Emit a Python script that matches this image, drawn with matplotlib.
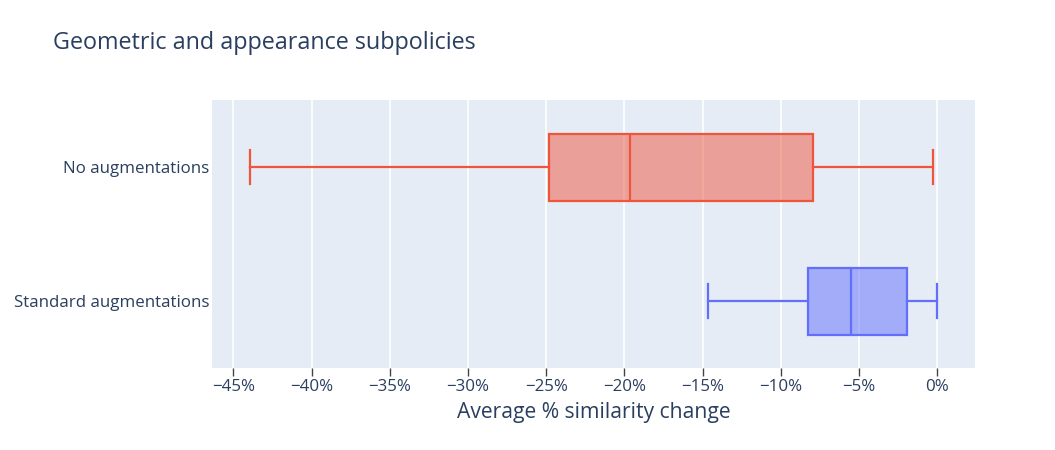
import matplotlib.pyplot as plt
from matplotlib.ticker import FuncFormatter

plt.rcParams['font.family'] = ['Open Sans', 'DejaVu Sans']

# box stats (fractions, not %)
labels = ['Standard augmentations', 'No augmentations']
whislo = [-0.1466, -0.4395]
q1 = [-0.0826, -0.2480]
med = [-0.0548, -0.1964]
q3 = [-0.0192, -0.0793]
whishi = [0.0, -0.0026]
colours = ['#636EFA', '#EF553B']

stats = []
for i in range(len(labels)):
    stats.append({'label': labels[i], 'whislo': whislo[i], 'q1': q1[i], 'med': med[i],
                  'q3': q3[i], 'whishi': whishi[i], 'fliers': []})

fig = plt.figure(figsize=(10.55, 4.5), dpi=100)
ax = fig.add_axes([212/1055, 1-368/450, (975-212)/1055, (368-100)/450])
ax.set_facecolor('#E5ECF6')

for i, s in enumerate(stats):
    c = colours[i]
    bp = ax.bxp([s], positions=[i], vert=False, widths=0.5, patch_artist=True,
                showfliers=False, capwidths=0.25)
    for b in bp['boxes']:
        b.set_facecolor(c + '80')
        b.set_edgecolor(c)
        b.set_linewidth(1.6)
    for k in ['whiskers', 'caps', 'medians']:
        for l in bp[k]:
            l.set_color(c)
            l.set_linewidth(1.6)

ax.set_xlim(-0.4637, 0.0242)
ax.set_ylim(-0.5, 1.5)
ax.set_xticks([-0.45, -0.40, -0.35, -0.30, -0.25, -0.20, -0.15, -0.10, -0.05, 0.0])
ax.xaxis.set_major_formatter(FuncFormatter(lambda v, p: ('\u2212' if v < -1e-9 else '') + '%d%%' % round(abs(v)*100)))
ax.set_yticks([0, 1])
ax.set_yticklabels(labels)
ax.grid(axis='x', color='white', linewidth=1.2)
ax.set_axisbelow(True)
for sp in ax.spines.values():
    sp.set_visible(False)
ax.tick_params(axis='x', length=6, color='#444444', width=1, labelsize=12.2, labelcolor='#2a3f5f', pad=2)
ax.tick_params(axis='y', length=0, labelsize=12.2, labelcolor='#2a3f5f', pad=2)
ax.set_xlabel('Average % similarity change', fontsize=15.2, color='#2a3f5f', labelpad=5)
fig.text(53/1055, 1-43/450, 'Geometric and appearance subpolicies', fontsize=16.8, color='#2a3f5f', va='center')

plt.savefig('out.png', dpi=100)
